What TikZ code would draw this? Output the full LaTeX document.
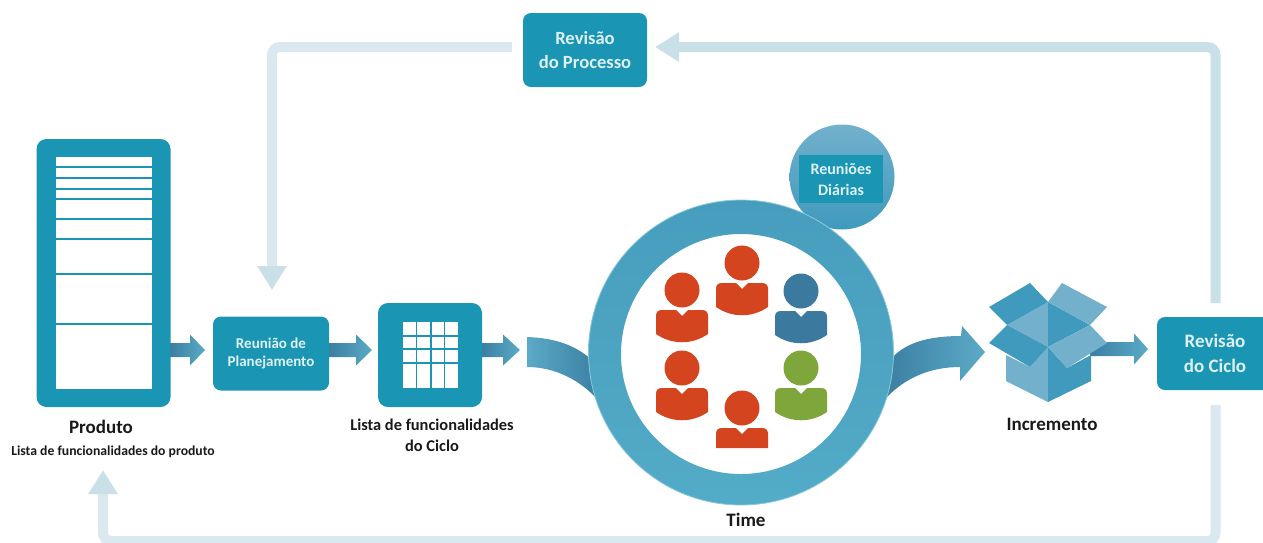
\documentclass[tikz,border=0pt]{standalone}
\usepackage{fontspec}
\setmainfont{Carlito}
\usetikzlibrary{calc,arrows.meta}
\definecolor{boxblue}{HTML}{1B95B4}
\definecolor{fbblue}{HTML}{C9E0E9}
\definecolor{fbpale}{HTML}{DAE9EF}
\definecolor{boxtext}{HTML}{DDF1F5}
\definecolor{arrdark}{HTML}{3B7FA2}
\definecolor{arrlight}{HTML}{5BAAC7}
\definecolor{ringtop}{HTML}{479DBD}
\definecolor{ringbot}{HTML}{52ABC7}
\definecolor{rimlight}{HTML}{8CC8DA}
\definecolor{pred}{HTML}{D4451F}
\definecolor{pblue}{HTML}{3B7A9E}
\definecolor{pgreen}{HTML}{7FA63A}
\definecolor{flapdark}{HTML}{3F9ABD}
\definecolor{flaplight}{HTML}{72B0CC}
\tikzset{
  flowbox/.style={fill=boxblue,rounded corners=8pt,text=boxtext,align=center,font=\bfseries\fontsize{18.6}{24}\selectfont,inner sep=0pt},
  caption/.style={text=black!90,align=center,font=\bfseries\fontsize{19}{21}\selectfont,inner sep=0pt},
  feedback/.style={draw=fbblue,line width=10pt,rounded corners=8pt},
  feedbackpale/.style={draw=fbpale,line width=10pt,rounded corners=8pt},
  bigtip/.style={-{Triangle[length=24pt,width=28pt,color=fbblue]}},
  person/.pic={
    \fill[fill=#1] (0,0) circle[radius=17.5pt];
    \fill[fill=#1] (-26,44) -- (-26,26) .. controls (-26,22) and (-24,20) .. (-20,20) -- (-6,20) -- (0,26) -- (6,20) -- (20,20) .. controls (24,20) and (26,22) .. (26,26) -- (26,44) .. controls (10,55) and (-10,55) .. (-26,44) -- cycle;
  },
  personcut/.pic={
    \fill[fill=#1] (0,0) circle[radius=17.5pt];
    \fill[fill=#1] (-26,40) -- (-26,26) .. controls (-26,22) and (-24,20) .. (-20,20) -- (-6,20) -- (0,26) -- (6,20) -- (20,20) .. controls (24,20) and (26,22) .. (26,26) -- (26,40) -- cycle;
  },
}
\newcommand{\blockarrow}[3]{%
  \shade[left color=arrdark,right color=arrlight] let \p1=(#1),\p2=(#2) in
    (\x1,\y1+7pt) -- (\x2-#3,\y1+7pt) -- (\x2-#3,\y1+15.5pt) -- (\x2,\y1) --
    (\x2-#3,\y1-15.5pt) -- (\x2-#3,\y1-7pt) -- (\x1,\y1-7pt) -- cycle;}
\begin{document}
\begin{tikzpicture}[x=1pt,y=-1pt]
\useasboundingbox (0,0) rectangle (1263,542);
% connector ends
\coordinate (cicloUp) at (1215.5,303);
\coordinate (cicloDown) at (1215.5,405);
\coordinate (procIn) at (655,47);
\coordinate (procOut) at (512,47);
\coordinate (planIn) at (272,290);
\coordinate (prodIn) at (103,470);
\coordinate (bottomRight) at (1215.5,541);
\coordinate (bottomLeft) at (103,541);
\coordinate (a1s) at (170,350);
\coordinate (a1e) at (205,350);
\coordinate (a2s) at (329,350);
\coordinate (a2e) at (372,350);
\coordinate (a3s) at (482,350);
\coordinate (a3e) at (520,350);
\coordinate (a4s) at (1090,349);
\coordinate (a4e) at (1148,349);
% feedback lines
\draw[feedback,bigtip] (cicloUp) |- (procIn);
\draw[feedbackpale,bigtip] (procOut) -| (planIn);
\draw[feedbackpale,bigtip] (cicloDown) -- (bottomRight) -- (bottomLeft) -- (prodIn);
% Produto
\node[flowbox,minimum width=134pt,minimum height=268pt,rounded corners=10pt] (prod) at (103.5,273) {};
\fill[white] (56,157) rectangle (152,389);
\foreach \ly in {167,178,189,199,219,239,274,324}
  \draw[boxblue,line width=1.3pt] (56,\ly) -- (152,\ly);
% Reuniao
\node[flowbox,minimum width=116pt,minimum height=74pt,font=\bfseries\fontsize{15}{18.5}\selectfont] (plan) at (271,353.5) {Reunião de\\Planejamento};
% Lista ciclo
\node[flowbox,minimum width=104pt,minimum height=104pt,rounded corners=10pt] (lista) at (430,355) {};
\fill[white] (403,322) rectangle (458,388);
\foreach \lx in {416.5,431,444.5}
  \draw[boxblue,line width=1.3pt] (\lx,322) -- (\lx,388);
\foreach \ly in {336,349,363}
  \draw[boxblue,line width=1.3pt] (403,\ly) -- (458,\ly);
% block arrows
\blockarrow{a1s}{a1e}{15pt}
\blockarrow{a2s}{a2e}{16pt}
\blockarrow{a3s}{a3e}{17pt}
% left ribbon
\shade[left color=arrlight,right color=arrdark]
  (527,337) .. controls (555,338) and (575,345) .. (592,360) -- (598,400)
  .. controls (580,380) and (555,367) .. (527,367) -- cycle;
% right ribbon
\shade[left color=arrdark,right color=arrlight]
  (890,360) .. controls (905,342) and (930,336) .. (961,336) -- (962,326) -- (985,352) -- (960,381) -- (960,367)
  .. controls (930,367) and (905,378) .. (886,398) -- cycle;
% Reunioes circle
\shade[top color=flaplight,bottom color=flapdark] (842,177) circle[radius=52.5pt];
\node[flowbox,rounded corners=0pt,minimum width=84pt,minimum height=48pt,font=\bfseries\fontsize{16}{21}\selectfont] (daily) at (841,179) {Reuniões\\Diárias};
% Ring
\shade[top color=ringtop,bottom color=ringbot,even odd rule] (741,352.5) circle[radius=152.5pt] (741,354) circle[radius=120pt];
\draw[rimlight,line width=.8pt] (741,352.5) circle[radius=152.5pt];
% People
\pic at (682,290) {person=pred};
\pic at (742,263) {person=pred};
\pic at (801,291) {person=pblue};
\pic at (682,368) {person=pred};
\pic at (801,368) {person=pgreen};
\pic at (742,408) {personcut=pred};
% arrow to Revisao do Ciclo (behind the box)
\blockarrow{a4s}{a4e}{14pt}
% Box icon
\fill[flaplight] (1007,325) -- (1048,302) -- (1048,347) -- cycle;
\fill[flapdark] (1048,302) -- (1090,325) -- (1048,347) -- cycle;
\fill[flaplight] (1006,381) -- (1048,402) -- (1048,347) -- (1030,367) -- (1006,355) -- cycle;
\fill[flapdark] (1048,402) -- (1091,381) -- (1091,355) -- (1067,368) -- (1048,347) -- cycle;
\fill[flapdark] (989,307) -- (1030,283) -- (1048,302) -- (1007,325) -- cycle;
\fill[flaplight] (1048,302) -- (1062,283) -- (1107,307) -- (1090,325) -- cycle;
\fill[flapdark] (989,343) -- (1007,325) -- (1048,347) -- (1030,367) -- cycle;
\fill[flaplight] (1048,347) -- (1090,325) -- (1107,343) -- (1067,368) -- cycle;
% Revisao boxes
\node[flowbox,minimum width=124pt,minimum height=74pt] (proc) at (585,50) {Revisão\\do Processo};
\fill[boxblue] (1263,317) [rounded corners=8pt] -- (1157,317) -- (1157,390) [sharp corners] -- (1263,390) -- cycle;
\node[text=boxtext,align=center,font=\bfseries\fontsize{19}{25}\selectfont,inner sep=0pt] (ciclo) at (1215,353) {Revisão\\do Ciclo};
% Captions
\node[caption] (prodcap) at (101,427) {Produto};
\node[caption,font=\bfseries\fontsize{13.7}{14}\selectfont] (prodsub) at (113,452) {Lista de funcionalidades do produto};
\node[caption,font=\bfseries\fontsize{16.4}{21}\selectfont] (listacap) at (432,435.5) {Lista de funcionalidades\\do Ciclo};
\node[caption] (timecap) at (746,520) {Time};
\node[caption] (inccap) at (1052,424) {Incremento};
\end{tikzpicture}
\end{document}
